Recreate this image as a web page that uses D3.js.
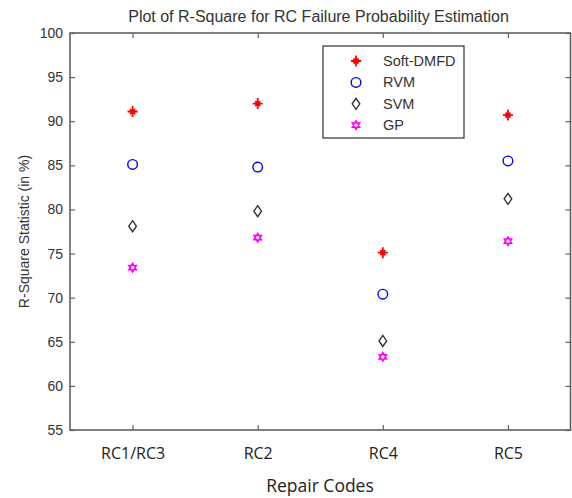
<!DOCTYPE html>
<html>
<head>
<meta charset="utf-8">
<script src="https://cdn.jsdelivr.net/npm/d3@7"></script>
<style>
  body { margin: 0; background: #fff; }
  svg { display: block; }
</style>
</head>
<body>
<script>
// chart data
const codes = ['RC1/RC3', 'RC2', 'RC4', 'RC5']
const softDMFD = [91.1, 92.0, 75.1, 90.7]
const rvm = [85.1, 84.8, 70.4, 85.5]
const svm = [78.1, 79.8, 65.1, 81.2]
const gp = [73.4, 76.8, 63.3, 76.4]
const yTicks = [55, 60, 65, 70, 75, 80, 85, 90, 95, 100]

const config = {
  width: 572,
  height: 498,
  left: 70,
  right: 570.5,
  top: 33,
  bottom: 430,
}

const series = [
  {name: 'Soft-DMFD', values: softDMFD, shape: 'star', color: '#ff0000'},
  {name: 'RVM', values: rvm, shape: 'circle', color: '#0000ff'},
  {name: 'SVM', values: svm, shape: 'diamond', color: '#333333'},
  {name: 'GP', values: gp, shape: 'hexagram', color: '#ff00ff'},
]

const svg = d3.select('body').append('svg')
  .attr('width', config.width)
  .attr('height', config.height)

const x = d3.scaleLinear().domain([0.5, 4.5]).range([config.left, config.right])
const y = d3.scaleLinear().domain([55, 100]).range([config.bottom, config.top])

const axisColor = '#606060'
const sansFont = '"Liberation Sans", Arial, sans-serif'

// plot box
svg.append('rect')
  .attr('x', config.left).attr('y', config.top)
  .attr('width', config.right - config.left)
  .attr('height', config.bottom - config.top)
  .attr('fill', 'none')
  .attr('stroke', axisColor)
  .attr('stroke-width', 1.6)

// axes, ticks point inward (matlab style)
const styleAxis = g => {
  g.select('.domain').remove()
  g.selectAll('.tick line').attr('stroke', axisColor).attr('stroke-width', 1.2)
}

svg.append('g')
  .attr('transform', `translate(${config.left},0)`)
  .call(d3.axisLeft(y).tickValues(yTicks).tickSizeInner(-5).tickPadding(7))
  .call(styleAxis)
  .selectAll('text')
  .attr('font-family', sansFont)
  .attr('font-size', 14)
  .attr('fill', '#333')

svg.append('g')
  .attr('transform', `translate(${config.right},0)`)
  .call(d3.axisRight(y).tickValues(yTicks).tickSize(-5).tickFormat(''))
  .call(styleAxis)

svg.append('g')
  .attr('transform', `translate(0,${config.bottom})`)
  .call(d3.axisBottom(x).tickValues([1, 2, 3, 4]).tickSizeInner(-5).tickPadding(17.5)
    .tickFormat((d, i) => codes[i]))
  .call(styleAxis)
  .selectAll('text')
  .attr('font-family', '"Open Sans", sans-serif')
  .attr('font-size', 16)
  .attr('fill', '#222')

svg.append('g')
  .attr('transform', `translate(0,${config.top})`)
  .call(d3.axisTop(x).tickValues([1, 2, 3, 4]).tickSize(-5).tickFormat(''))
  .call(styleAxis)

// titles
svg.append('text')
  .attr('x', 318.5).attr('y', 22)
  .attr('text-anchor', 'middle')
  .attr('font-family', sansFont)
  .attr('font-size', 16)
  .attr('fill', '#333')
  .text('Plot of R-Square for RC Failure Probability Estimation')

svg.append('text')
  .attr('transform', `translate(29,${(config.top + config.bottom) / 2}) rotate(-90)`)
  .attr('text-anchor', 'middle')
  .attr('font-family', sansFont)
  .attr('font-size', 14)
  .attr('fill', '#333')
  .text('R-Square Statistic (in %)')

svg.append('text')
  .attr('x', 320).attr('y', 492)
  .attr('text-anchor', 'middle')
  .attr('font-family', '"Open Sans", sans-serif')
  .attr('font-size', 17.5)
  .attr('fill', '#222')
  .text('Repair Codes')

// marker drawing
const drawMarker = (g, shape, color) => {
  if (shape === 'star') {
    g.append('path')
      .attr('d', 'M0,-5.5V5.5M-5,0H5M-2.5,-2.5L2.5,2.5M-2.5,2.5L2.5,-2.5')
      .attr('stroke', color).attr('stroke-width', 1.8).attr('fill', 'none')
  } else if (shape === 'circle') {
    g.append('circle').attr('r', 4.8)
      .attr('stroke', color).attr('stroke-width', 1.4).attr('fill', 'none')
  } else if (shape === 'diamond') {
    g.append('path').attr('d', 'M0,-5.5L3.8,0L0,5.5L-3.8,0Z')
      .attr('stroke', color).attr('stroke-width', 1.4).attr('fill', 'none')
  } else {
    g.append('path').attr('d', 'M0,-4.5L3.9,2.25L-3.9,2.25Z M0,4.5L-3.9,-2.25L3.9,-2.25Z')
      .attr('stroke', color).attr('stroke-width', 1.3).attr('fill', 'none')
  }
}

series.forEach(s => {
  s.values.forEach((v, i) => {
    const g = svg.append('g').attr('transform', `translate(${x(i + 1)},${y(v)})`)
    drawMarker(g, s.shape, s.color)
  })
})

// legend
const legend = svg.append('g')
legend.append('rect')
  .attr('x', 323).attr('y', 46)
  .attr('width', 141).attr('height', 92)
  .attr('fill', '#fff')
  .attr('stroke', '#333')
  .attr('stroke-width', 1.2)

series.forEach((s, i) => {
  const ly = 61 + i * 21.4
  const g = legend.append('g').attr('transform', `translate(356,${ly})`)
  drawMarker(g, s.shape, s.color)
  legend.append('text')
    .attr('x', 383).attr('y', ly + 5)
    .attr('font-family', sansFont)
    .attr('font-size', 14.5)
    .attr('fill', '#333')
    .text(s.name)
})
</script>
</body>
</html>
